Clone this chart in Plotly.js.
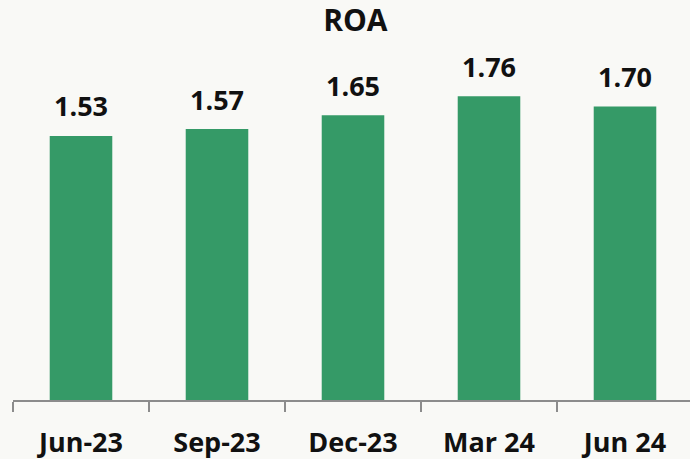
<!DOCTYPE html>
<html>
<head>
<meta charset="utf-8">
<script src="https://cdn.plot.ly/plotly-3.0.1.min.js"></script>
<style>html,body{margin:0;padding:0;background:#f9f9f6;}#chart{width:690px;height:459px;}</style>
</head>
<body>
<div id="chart"></div>
<script>
const categories = ["Jun-23", "Sep-23", "Dec-23", "Mar 24", "Jun 24"];
const roaValues = [1.53, 1.57, 1.65, 1.76, 1.70];
const valueLabels = ["1.53", "1.57", "1.65", "1.76", "1.70"];

const FONT = "Open Sans, Liberation Sans, Arial, sans-serif";

const trace = {
  type: "bar",
  x: categories,
  y: roaValues,
  marker: {color: "#359a67"},
  hoverinfo: "x+y"
};

const annotations = categories.map((c, i) => ({
  x: c, y: roaValues[i], xref: "x", yref: "y",
  text: valueLabels[i], showarrow: false,
  yanchor: "middle", yshift: 30,
  font: {family: FONT, size: 27, color: "#111111", weight: "bold"}
}));

const layout = {
  width: 690, height: 459,
  margin: {l: 13, r: 0, t: 0, b: 59},
  paper_bgcolor: "#f9f9f6",
  plot_bgcolor: "#f9f9f6",
  bargap: 0.54,
  showlegend: false,
  title: {
    text: "<b>ROA</b>",
    x: 0.515, xanchor: "center",
    y: 1 - 20/459, yanchor: "middle", yref: "container",
    font: {family: FONT, size: 30, color: "#111111"}
  },
  xaxis: {
    type: "category",
    range: [-0.5, -0.5 + 677/136],
    showline: true, linecolor: "#8c8c8c", linewidth: 2,
    ticks: "outside", tickson: "boundaries", ticklen: 10, tickwidth: 2, tickcolor: "#8c8c8c",
    ticklabelstandoff: 18,
    tickfont: {family: FONT, size: 27, color: "#111111", weight: "bold"},
    showgrid: false, zeroline: false, fixedrange: true
  },
  yaxis: {
    range: [0, 400/172.6],
    visible: false, showgrid: false, zeroline: false, fixedrange: true
  },
  annotations: annotations
};

Plotly.newPlot("chart", [trace], layout, {displayModeBar: false, staticPlot: true});
</script>
</body>
</html>
